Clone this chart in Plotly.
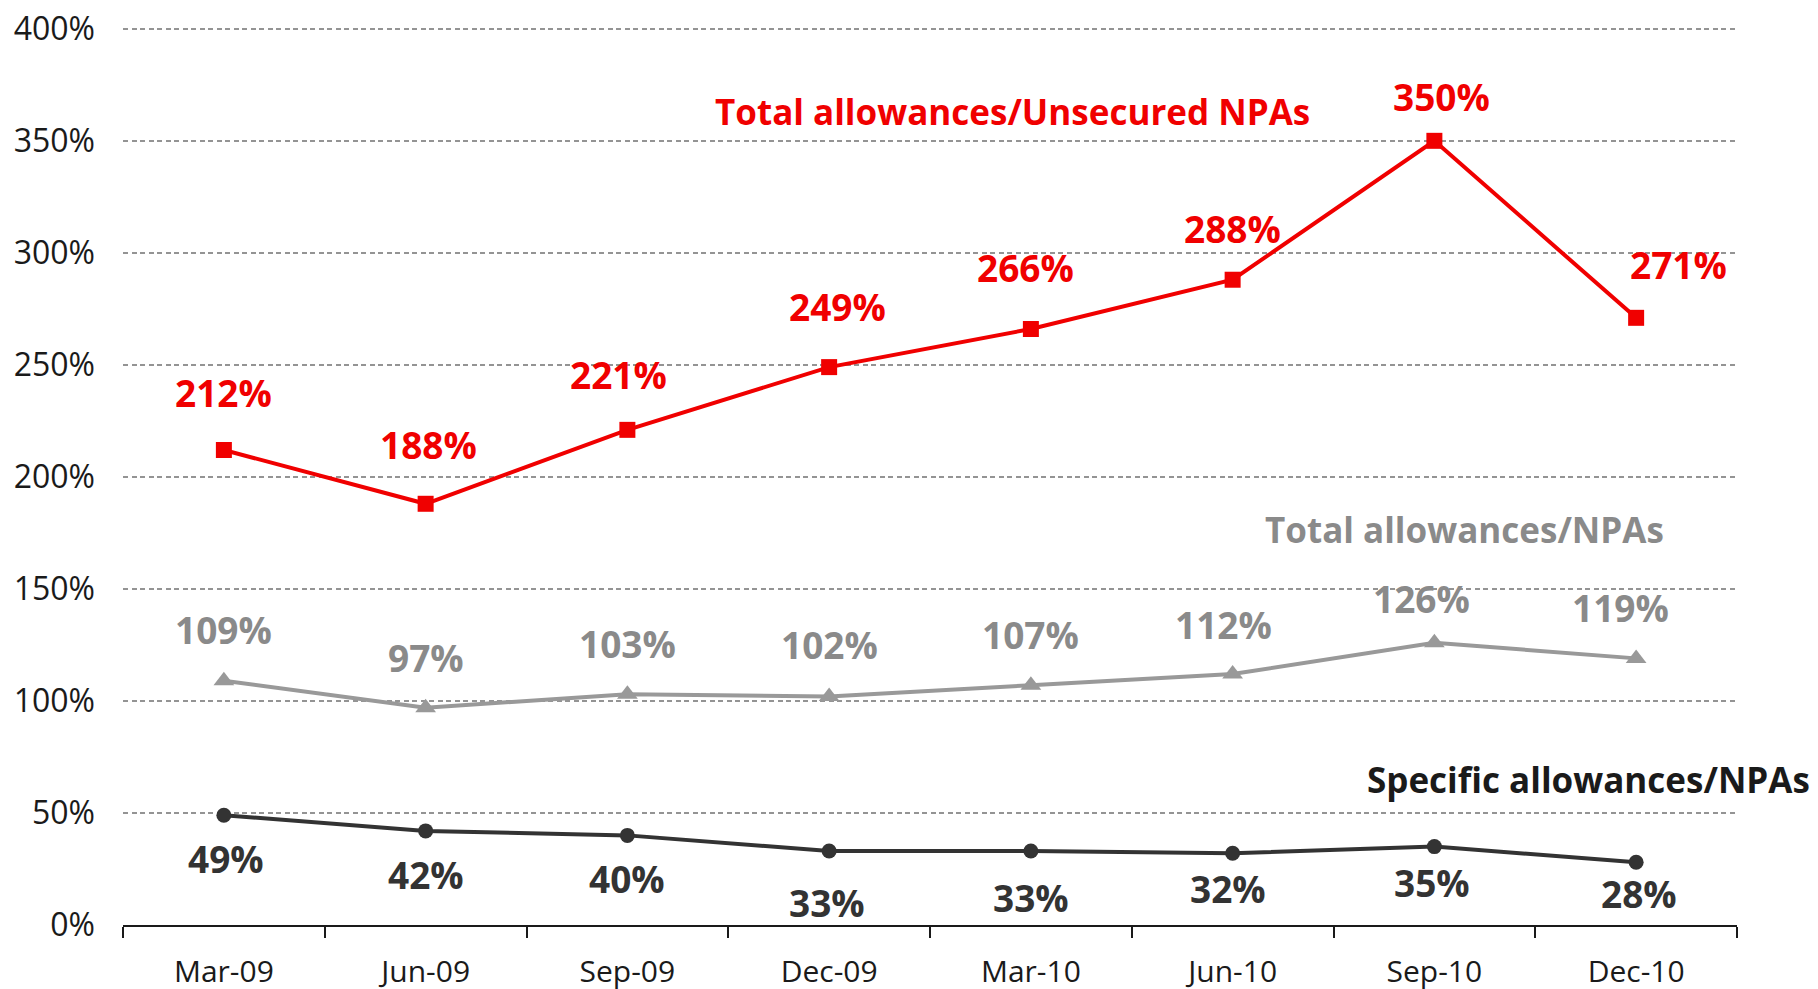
import plotly.graph_objects as go

quarters = ["Mar-09", "Jun-09", "Sep-09", "Dec-09", "Mar-10", "Jun-10", "Sep-10", "Dec-10"]
total_unsecured = [212, 188, 221, 249, 266, 288, 350, 271]
total_npa = [109, 97, 103, 102, 107, 112, 126, 119]
specific_npa = [49, 42, 40, 33, 33, 32, 35, 28]
y_ticks = [0, 50, 100, 150, 200, 250, 300, 350, 400]

RED = "#f00000"
GREY_LINE = "#999999"
GREY_TEXT = "#8a8a8a"
DARK = "#333333"
FONT = "Open Sans"

# page body has an 8px margin, so the figure is drawn 8px in from the corner
PAGE = 8
W, H = 1818 - PAGE, 989 - PAGE
# plot area in figure pixels
L, R, T, B = 123 - PAGE, 1737 - PAGE, 27 - PAGE, 925 - PAGE

# label offsets in pixels (x, y) per point
red_off = [(0, 58), (3, 59), (-9, 55), (8, 61), (-5, 62), (0, 51), (7, 44), (42, 53)]
grey_off = [(0, 51), (0, 50), (0, 51), (0, 52), (0, 51), (-9, 50), (-13, 44), (-16, 51)]
dark_off = [(2, -43), (0, -44), (0, -43), (-2, -51), (0, -46), (-5, -35), (-2, -36), (3, -31)]

fig = go.Figure()
fig.add_trace(go.Scatter(x=quarters, y=specific_npa, mode="lines+markers",
                         line=dict(color=DARK, width=4),
                         marker=dict(symbol="circle", size=15, color=DARK)))
fig.add_trace(go.Scatter(x=quarters, y=total_npa, mode="lines+markers",
                         line=dict(color=GREY_LINE, width=4),
                         marker=dict(symbol="triangle-up", size=18, color=GREY_LINE)))
fig.add_trace(go.Scatter(x=quarters, y=total_unsecured, mode="lines+markers",
                         line=dict(color=RED, width=4),
                         marker=dict(symbol="square", size=16, color=RED)))

annotations = []
for vals, offs, col in [(total_unsecured, red_off, RED), (total_npa, grey_off, GREY_TEXT),
                        (specific_npa, dark_off, DARK)]:
    for q, v, (dx, dy) in zip(quarters, vals, offs):
        annotations.append(dict(x=q, y=v, text=f"{v}%", showarrow=False,
                                xshift=dx, yshift=dy,
                                font=dict(family=FONT, size=37, color=col, weight="bold")))

# series names, centre positions on screen
names = [("Total allowances/Unsecured NPAs", 1012, 111, RED),
         ("Total allowances/NPAs", 1464, 529, GREY_TEXT),
         ("Specific allowances/NPAs", 1588, 779, "#1a1a1a")]
for txt, px, py, col in names:
    annotations.append(dict(xref="paper", yref="paper", x=(px - PAGE - L) / (R - L),
                            y=(B - (py - PAGE)) / (B - T), text=txt, showarrow=False,
                            xanchor="center", yanchor="middle",
                            font=dict(family=FONT, size=35, color=col, weight="bold")))

fig.update_layout(
    width=W, height=H,
    margin=dict(l=L, r=W - R, t=T, b=H - B, autoexpand=False),
    paper_bgcolor="white", plot_bgcolor="white",
    showlegend=False,
    annotations=annotations,
    font=dict(family=FONT, color="#1a1a1a"),
)
fig.update_xaxes(range=[-0.5, len(quarters) - 0.5],
                 showline=True, linecolor="#1a1a1a", linewidth=2,
                 ticks="outside", tickson="boundaries", ticklen=11, tickwidth=2,
                 tickcolor="#1a1a1a", showgrid=False, automargin=False,
                 tickfont=dict(size=30, color="#1a1a1a", family=FONT),
                 ticklabelstandoff=19, ticklabeloverflow="allow")
fig.update_yaxes(range=[0, 400.8], tickvals=y_ticks, ticktext=[f"{v}%" for v in y_ticks],
                 showgrid=True, gridcolor="#949494", griddash="5px,3.5px", gridwidth=2,
                 zeroline=False, showline=False, automargin=False,
                 tickfont=dict(size=32, color="#1a1a1a", family=FONT),
                 ticklabelstandoff=27, ticklabeloverflow="allow")

fig.write_html("out.html")
